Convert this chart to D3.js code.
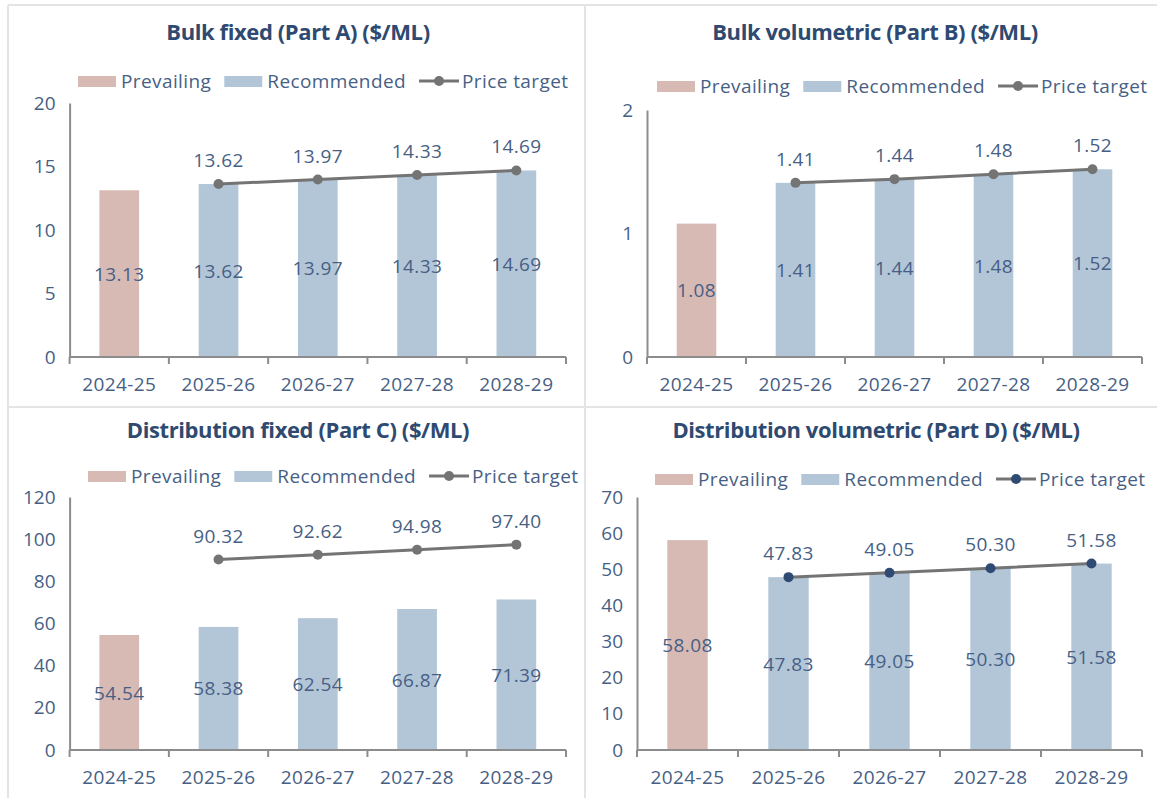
<!DOCTYPE html>
<html>
<head>
<meta charset="utf-8">
<script src="https://cdn.jsdelivr.net/npm/d3@7"></script>
<style>
  body { margin: 0; background: #fff; }
  svg { display: block; font-family: "Open Sans", sans-serif; }
</style>
</head>
<body>
<div id="chart"></div>
<script>
// chart values
const years = ["2024-25", "2025-26", "2026-27", "2027-28", "2028-29"];
const legendNames = ["Prevailing", "Recommended", "Price target"];

const titleA = "Bulk fixed (Part A) ($/ML)";
const prevailingA = 13.13;
const recommendedA = [13.62, 13.97, 14.33, 14.69];
const targetA = [13.62, 13.97, 14.33, 14.69];
const ticksA = [0, 5, 10, 15, 20];

const titleB = "Bulk volumetric (Part B) ($/ML)";
const prevailingB = 1.08;
const recommendedB = [1.41, 1.44, 1.48, 1.52];
const targetB = [1.41, 1.44, 1.48, 1.52];
const ticksB = [0, 1, 2];

const titleC = "Distribution fixed (Part C) ($/ML)";
const prevailingC = 54.54;
const recommendedC = [58.38, 62.54, 66.87, 71.39];
const targetC = [90.32, 92.62, 94.98, 97.40];
const ticksC = [0, 20, 40, 60, 80, 100, 120];

const titleD = "Distribution volumetric (Part D) ($/ML)";
const prevailingD = 58.08;
const recommendedD = [47.83, 49.05, 50.30, 51.58];
const targetD = [47.83, 49.05, 50.30, 51.58];
const ticksD = [0, 10, 20, 30, 40, 50, 60, 70];

const pink = "#d8bab5";
const blue = "#b3c6d8";
const lineGray = "#747474";
const textCol = "#475f85";
const titleCol = "#2f4a70";
const fs = "19px";
const ls = "0.4px";

const W = 1157, H = 798;
const svg = d3.select("#chart").append("svg").attr("width", W).attr("height", H);

// frame lines between panels
const frame = svg.append("g").attr("stroke", "#e4e4e4").attr("stroke-width", 2);
frame.append("line").attr("x1", 8).attr("x2", W).attr("y1", 5).attr("y2", 5);
frame.append("line").attr("x1", 8).attr("x2", 8).attr("y1", 5).attr("y2", H);
frame.append("line").attr("x1", 585).attr("x2", 585).attr("y1", 5).attr("y2", H);
frame.append("line").attr("x1", 8).attr("x2", W).attr("y1", 407).attr("y2", 407);

const panels = [
  { title: titleA, prev: prevailingA, rec: recommendedA, target: targetA, ticks: ticksA,
    x0: 69.6, x1: 566, y0: 357, y1: 103, titleX: 298, titleY: 40, legX: 78, legY: 81, dot: lineGray },
  { title: titleB, prev: prevailingB, rec: recommendedB, target: targetB, ticks: ticksB,
    x0: 647, x1: 1142, y0: 357, y1: 110, titleX: 875, titleY: 40, legX: 657, legY: 86, dot: lineGray },
  { title: titleC, prev: prevailingC, rec: recommendedC, target: targetC, ticks: ticksC,
    x0: 69.6, x1: 566, y0: 750, y1: 497, titleX: 298, titleY: 438, legX: 88, legY: 476, dot: lineGray },
  { title: titleD, prev: prevailingD, rec: recommendedD, target: targetD, ticks: ticksD,
    x0: 637, x1: 1142, y0: 750, y1: 497, titleX: 876, titleY: 438, legX: 655, legY: 479, dot: "#2f4b73" }
];

panels.forEach(drawPanel);

function drawPanel(p) {
  const g = svg.append("g");

  g.append("text")
    .attr("x", p.titleX).attr("y", p.titleY)
    .attr("text-anchor", "middle")
    .attr("fill", titleCol)
    .style("font-size", "22px").style("font-weight", "bold").style("letter-spacing", "-0.4px")
    .text(p.title);

  const x = d3.scaleBand().domain(years).range([p.x0, p.x1]);
  const y = d3.scaleLinear().domain([0, d3.max(p.ticks)]).range([p.y0, p.y1]);
  const bw = x.bandwidth() * 0.4;

  // bars
  const bars = [{ year: years[0], v: p.prev, c: pink }].concat(
    p.rec.map((v, i) => ({ year: years[i + 1], v: v, c: blue }))
  );
  g.selectAll("rect.bar").data(bars).join("rect")
    .attr("x", d => x(d.year) + (x.bandwidth() - bw) / 2)
    .attr("width", bw)
    .attr("y", d => y(d.v))
    .attr("height", d => y(0) - y(d.v))
    .attr("fill", d => d.c);

  g.selectAll("text.barlab").data(bars).join("text")
    .attr("x", d => x(d.year) + x.bandwidth() / 2)
    .attr("y", d => (y(d.v) + y(0)) / 2 + 7)
    .attr("text-anchor", "middle")
    .attr("fill", textCol)
    .style("font-size", fs).style("letter-spacing", ls)
    .text(d => d3.format(".2f")(d.v));

  // axes
  const yAxis = g.append("g")
    .attr("transform", `translate(${p.x0},0)`)
    .call(d3.axisLeft(y).tickValues(p.ticks).tickSize(0).tickPadding(14).tickFormat(d3.format("d")));
  yAxis.select(".domain").attr("stroke", "#8c8c8c").attr("stroke-width", 2);
  yAxis.selectAll("text").attr("fill", textCol).style("font-size", fs)
    .style("font-family", "'Open Sans', sans-serif");

  const xAxis = g.append("g").attr("transform", `translate(0,${p.y0})`);
  xAxis.append("line").attr("x1", p.x0).attr("x2", p.x1)
    .attr("stroke", "#8c8c8c").attr("stroke-width", 2);
  xAxis.selectAll("line.tk").data(years.concat(["end"])).join("line")
    .attr("x1", (d, i) => i < years.length ? x(d) : p.x1)
    .attr("x2", (d, i) => i < years.length ? x(d) : p.x1)
    .attr("y1", 0).attr("y2", 7)
    .attr("stroke", "#8c8c8c").attr("stroke-width", 2);
  xAxis.selectAll("text").data(years).join("text")
    .attr("x", d => x(d) + x.bandwidth() / 2)
    .attr("y", 34)
    .attr("text-anchor", "middle")
    .attr("fill", textCol)
    .style("font-size", fs).style("letter-spacing", ls)
    .text(d => d);

  // price target line
  const pts = p.target.map((v, i) => ({ year: years[i + 1], v: v }));
  const line = d3.line().x(d => x(d.year) + x.bandwidth() / 2).y(d => y(d.v));
  g.append("path").datum(pts)
    .attr("d", line)
    .attr("fill", "none").attr("stroke", lineGray).attr("stroke-width", 3);
  g.selectAll("circle.pt").data(pts).join("circle")
    .attr("cx", d => x(d.year) + x.bandwidth() / 2)
    .attr("cy", d => y(d.v))
    .attr("r", 5)
    .attr("fill", p.dot);
  g.selectAll("text.ptlab").data(pts).join("text")
    .attr("x", d => x(d.year) + x.bandwidth() / 2)
    .attr("y", d => y(d.v) - 17)
    .attr("text-anchor", "middle")
    .attr("fill", textCol)
    .style("font-size", fs).style("letter-spacing", ls)
    .text(d => d3.format(".2f")(d.v));

  // legend
  const leg = g.append("g").attr("transform", `translate(${p.legX},${p.legY})`);
  let cx = 0;
  legendNames.forEach((name, i) => {
    if (i < 2) {
      leg.append("rect").attr("x", cx).attr("y", -5).attr("width", 38).attr("height", 11)
        .attr("fill", i === 0 ? pink : blue);
    } else {
      leg.append("line").attr("x1", cx).attr("x2", cx + 40).attr("y1", 0).attr("y2", 0)
        .attr("stroke", lineGray).attr("stroke-width", 3);
      leg.append("circle").attr("cx", cx + 20).attr("cy", 0).attr("r", 5).attr("fill", p.dot);
    }
    const t = leg.append("text")
      .attr("x", cx + 43).attr("y", 7)
      .attr("fill", textCol)
      .style("font-size", fs).style("letter-spacing", ls)
      .text(name);
    cx += 43 + t.node().getComputedTextLength() + 13;
  });
}
</script>
</body>
</html>
